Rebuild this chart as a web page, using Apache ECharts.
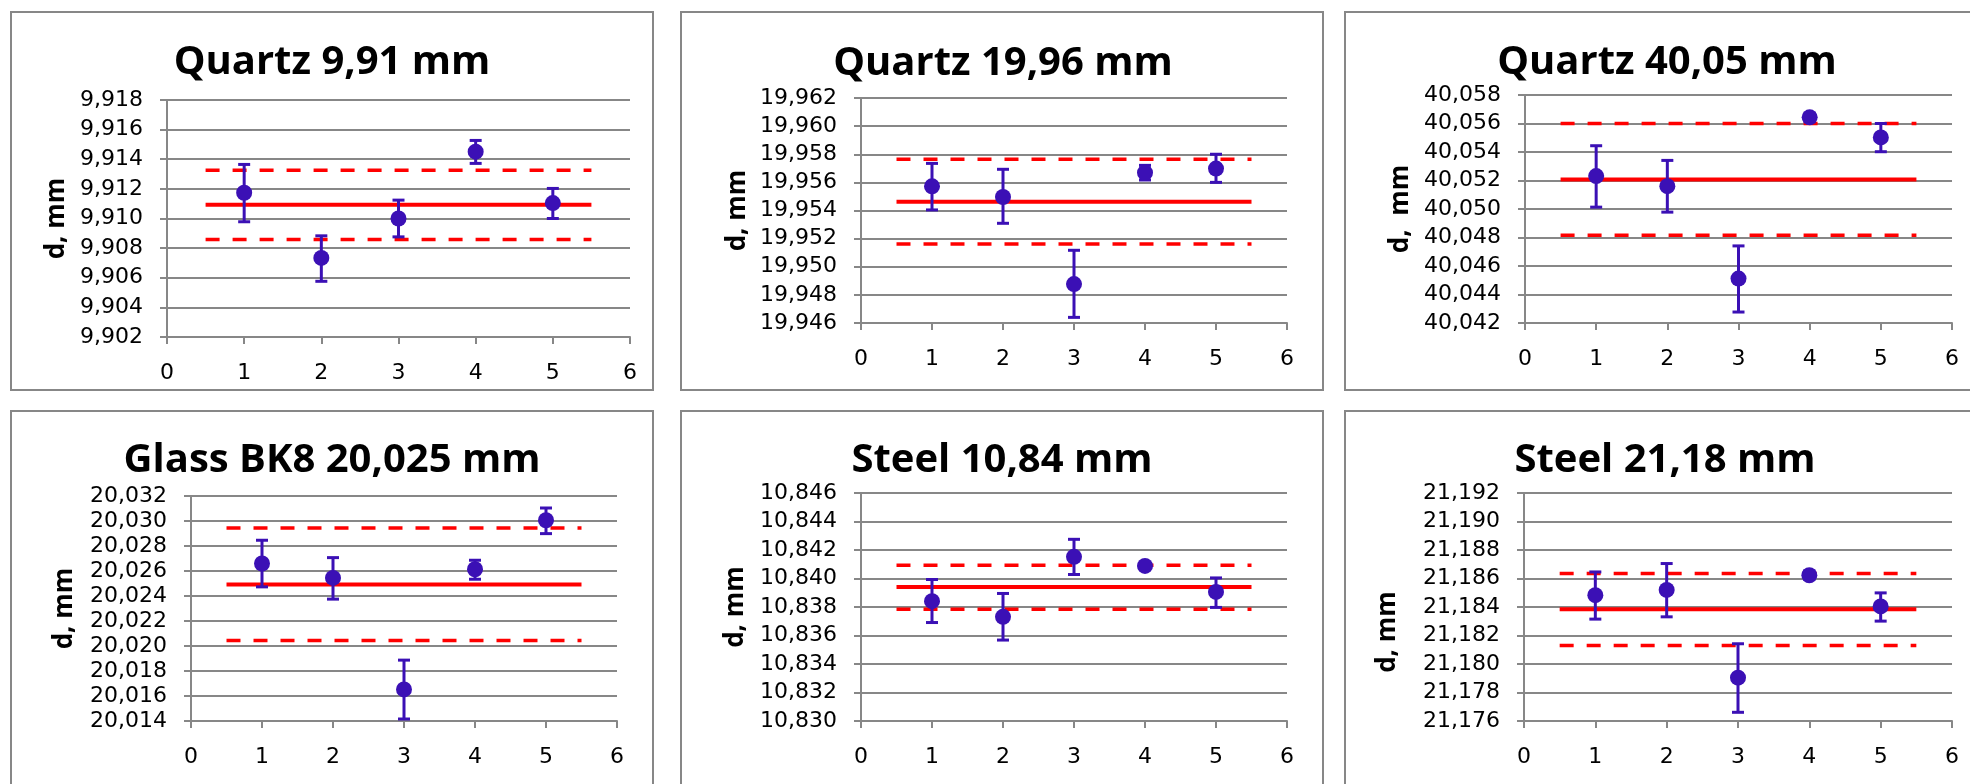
<!DOCTYPE html>
<html>
<head>
<meta charset="utf-8">
<script src="https://cdn.jsdelivr.net/npm/echarts@6/dist/echarts.min.js"></script>
<style>
html,body{margin:0;padding:0;background:#fff;}
#chart{width:1970px;height:784px;}
</style>
</head>
<body>
<div id="chart"></div>
<script>
// ---------- DATA ----------
const titles = ['Quartz 9,91 mm', 'Quartz 19,96 mm', 'Quartz 40,05 mm',
                'Glass BK8 20,025 mm', 'Steel 10,84 mm', 'Steel 21,18 mm'];
const axisNames = ['d, mm', 'd, mm', 'd,  mm', 'd, mm', 'd, mm', 'd, mm'];
const measurementNo = [1, 2, 3, 4, 5];
const xTicks = [0, 6, 1];            // min, max, step
const yMin = [9.902, 19.946, 40.042, 20.014, 10.830, 21.176];
const yMax = [9.918, 19.962, 40.058, 20.032, 10.846, 21.192];
const yStep = 0.002;

const quartz991 = [9.91174, 9.90734, 9.91000, 9.91451, 9.91104];
const quartz991Low = [9.90978, 9.90576, 9.90876, 9.91372, 9.91000];
const quartz991High = [9.91365, 9.90883, 9.91124, 9.91527, 9.91203];

const quartz1996 = [19.95572, 19.95496, 19.94877, 19.95669, 19.95698];
const quartz1996Low = [19.95404, 19.95309, 19.94640, 19.95617, 19.95600];
const quartz1996High = [19.95735, 19.95693, 19.95117, 19.95721, 19.95800];

const quartz4005 = [40.05231, 40.05160, 40.04512, 40.05643, 40.05502];
const quartz4005Low = [40.05013, 40.04978, 40.04277, 40.05613, 40.05402];
const quartz4005High = [40.05444, 40.05341, 40.04741, 40.05673, 40.05600];

const glass20025 = [20.02660, 20.02545, 20.01653, 20.02614, 20.03006];
const glass20025Low = [20.02473, 20.02375, 20.01416, 20.02534, 20.02899];
const glass20025High = [20.02846, 20.02707, 20.01887, 20.02686, 20.03104];

const steel1084 = [10.83841, 10.83731, 10.84152, 10.84088, 10.83906];
const steel1084Low = [10.83691, 10.83568, 10.84028, 10.84068, 10.83797];
const steel1084High = [10.83993, 10.83895, 10.84275, 10.84108, 10.84004];

const steel2118 = [21.18483, 21.18520, 21.17904, 21.18623, 21.18404];
const steel2118Low = [21.18315, 21.18331, 21.17661, 21.18593, 21.18301];
const steel2118High = [21.18646, 21.18705, 21.18142, 21.18653, 21.18499];

const meanValue = [9.91092, 19.95463, 40.05207, 20.02492, 10.83941, 21.18385];
const upperLimit = [9.91325, 19.95764, 40.05600, 20.02944, 10.84093, 21.18635];
const lowerLimit = [9.90858, 19.95162, 40.04816, 20.02044, 10.83785, 21.18130];
const lineRange = [0.5, 5.5];

const pointSets = [
  [quartz991, quartz991Low, quartz991High],
  [quartz1996, quartz1996Low, quartz1996High],
  [quartz4005, quartz4005Low, quartz4005High],
  [glass20025, glass20025Low, glass20025High],
  [steel1084, steel1084Low, steel1084High],
  [steel2118, steel2118Low, steel2118High]
];

// ---------- LAYOUT / STYLE ----------
const FONT = '"Open Sans", "Liberation Sans", sans-serif';
const TICKFONT = '"DejaVu Sans", "Open Sans", sans-serif';
const GRAY = '#878787';
const BLUE = '#3b10b5';
const RED = '#ff0000';

const grids = [
  {left: 167, top: 100, width: 463, height: 237},
  {left: 861, top: 98, width: 426, height: 225},
  {left: 1525, top: 95, width: 427, height: 228},
  {left: 191, top: 496, width: 426, height: 225},
  {left: 861, top: 493, width: 426, height: 228},
  {left: 1524, top: 493, width: 428, height: 228}
];
const nameGaps = [97, 110, 111, 113, 112, 123];
const namePads = [[0,0,0,0],[0,0,0,0],[0,0,0,0],[0,0,0,0],[0,0,0,0],[0,50,0,0]];
const titlePos = [[332, 63], [1003, 64], [1667, 63], [332, 461], [1002, 461], [1665, 461]];
const frames = [
  [11, 12, 642, 378], [681, 12, 642, 378], [1345, 12, 700, 378],
  [11, 411, 642, 400], [681, 411, 642, 400], [1345, 411, 700, 400]
];

const option = {
  backgroundColor: '#ffffff',
  animation: false,
  grid: [], xAxis: [], yAxis: [], series: [], graphic: []
};

frames.forEach(f => {
  option.graphic.push({
    type: 'rect', silent: true, z: 0,
    shape: {x: f[0], y: f[1], width: f[2], height: f[3]},
    style: {fill: 'none', stroke: GRAY, lineWidth: 2}
  });
});
titles.forEach((t, i) => {
  option.graphic.push({
    type: 'text', silent: true, z: 10,
    x: titlePos[i][0], y: titlePos[i][1],
    style: {text: t, fill: '#000', font: 'bold 40px ' + FONT, align: 'center', verticalAlign: 'middle'}
  });
});

const fmt = v => v.toFixed(3).replace('.', ',');

function errorRender(params, api) {
  const x = api.value(0);
  const pLo = api.coord([x, api.value(1)]);
  const pHi = api.coord([x, api.value(2)]);
  const hw = 6;
  const st = {stroke: BLUE, lineWidth: 3};
  return {
    type: 'group',
    children: [
      {type: 'line', shape: {x1: pLo[0], y1: pLo[1], x2: pHi[0], y2: pHi[1]}, style: st},
      {type: 'line', shape: {x1: pLo[0] - hw, y1: pLo[1], x2: pLo[0] + hw, y2: pLo[1]}, style: st},
      {type: 'line', shape: {x1: pHi[0] - hw, y1: pHi[1], x2: pHi[0] + hw, y2: pHi[1]}, style: st}
    ]
  };
}

for (let i = 0; i < 6; i++) {
  option.grid.push(Object.assign({outerBoundsMode: 'none', containLabel: false}, grids[i]));
  option.xAxis.push({
    type: 'value', gridIndex: i, min: xTicks[0], max: xTicks[1], interval: xTicks[2],
    axisLine: {show: true, lineStyle: {color: GRAY, width: 2}},
    axisTick: {show: true, inside: false, length: 7, lineStyle: {color: GRAY, width: 2}},
    axisLabel: {color: '#000', fontFamily: TICKFONT, fontSize: 22, margin: 25},
    splitLine: {show: false}
  });
  option.yAxis.push({
    type: 'value', gridIndex: i, min: yMin[i], max: yMax[i], interval: yStep,
    name: axisNames[i], nameLocation: 'middle', nameRotate: 90, nameGap: nameGaps[i],
    nameTextStyle: {color: '#000', fontFamily: FONT, fontWeight: 'bold', fontSize: 26, padding: namePads[i]},
    axisLine: {show: true, lineStyle: {color: GRAY, width: 2}},
    axisTick: {show: true, inside: false, length: 7, lineStyle: {color: GRAY, width: 2}},
    axisLabel: {color: '#000', fontFamily: TICKFONT, fontSize: 22, margin: 24, formatter: fmt},
    splitLine: {show: true, lineStyle: {color: GRAY, width: 2}}
  });

  const [vals, lows, highs] = pointSets[i];
  option.series.push({
    type: 'line', xAxisIndex: i, yAxisIndex: i, symbol: 'none', silent: true, z: 2,
    data: lineRange.map(x => [x, upperLimit[i]]),
    lineStyle: {color: RED, width: 3.5, type: [14, 13]}
  });
  option.series.push({
    type: 'line', xAxisIndex: i, yAxisIndex: i, symbol: 'none', silent: true, z: 2,
    data: lineRange.map(x => [x, lowerLimit[i]]),
    lineStyle: {color: RED, width: 3.5, type: [14, 13]}
  });
  option.series.push({
    type: 'line', xAxisIndex: i, yAxisIndex: i, symbol: 'none', silent: true, z: 2,
    data: lineRange.map(x => [x, meanValue[i]]),
    lineStyle: {color: RED, width: 4}
  });
  option.series.push({
    type: 'custom', xAxisIndex: i, yAxisIndex: i, silent: true, z: 3,
    renderItem: errorRender,
    encode: {x: 0, y: [1, 2]},
    data: measurementNo.map((n, k) => [n, lows[k], highs[k]])
  });
  option.series.push({
    type: 'scatter', xAxisIndex: i, yAxisIndex: i, silent: true, z: 4,
    symbol: 'circle', symbolSize: 16,
    itemStyle: {color: BLUE, opacity: 1},
    data: measurementNo.map((n, k) => [n, vals[k]])
  });
}

const chart = echarts.init(document.getElementById('chart'), null, {renderer: 'canvas'});
chart.setOption(option);
</script>
</body>
</html>
